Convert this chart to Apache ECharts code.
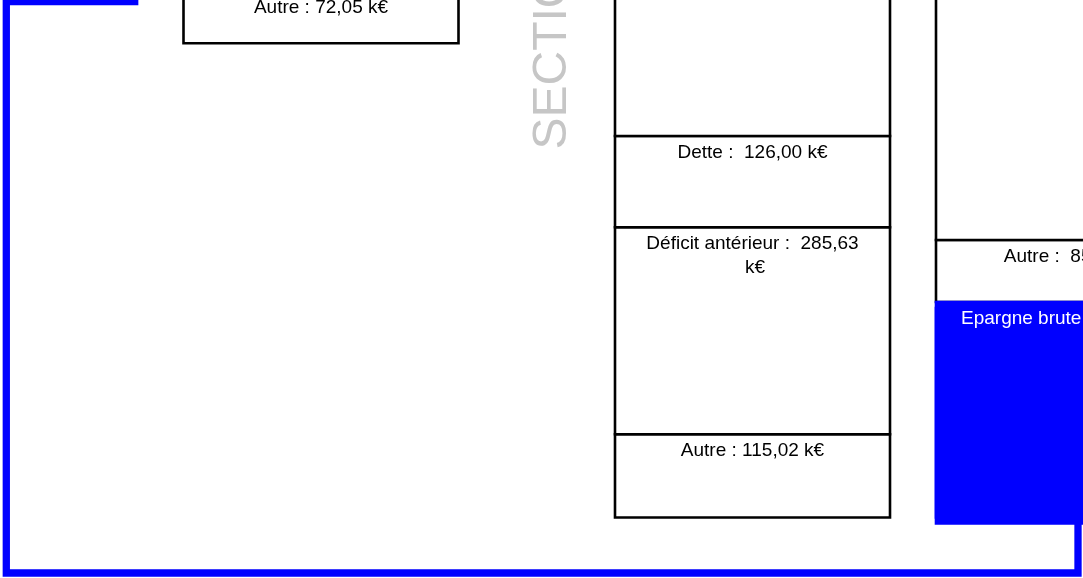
<!DOCTYPE html>
<html>
<head>
<meta charset="utf-8">
<script src="https://cdn.jsdelivr.net/npm/echarts@6/dist/echarts.min.js"></script>
<style>
    html, body {margin: 0; padding: 0; background: #fff;}
    #main {width: 1083px; height: 578px;}
</style>
</head>
<body>
<div id="main"></div>
<script>
// section d'investissement : colonnes dépenses / recettes (k€), du bas vers le haut
var invCategories = ['Dépenses', 'Recettes'];
var depLabels = ['Autre : ', 'Déficit antérieur :  ', 'Dette :  ', ''];
var depValues = [115.02, 285.63, 126.00, 260.00];
var recLabels = ['Epargne brute :  ', 'Autre :  ', ''];
var recValues = [297.50, 85.60, 420.00];
// section de fonctionnement, bas de la colonne visible en haut
var fonctCategories = ['Dépenses'];
var fonctLabels = ['Autre : '];
var fonctValues = [72.05];

var pxPerK = 0.7244; // même échelle pour les deux sections
var invGrid = {left: 592, width: 642, top: 10.4, height: 507.1};
var fonctGrid = {left: 183, width: 276, top: 0, height: 43.2};
var colWidth = 275;
var blue = '#0000ff';
var fontFam = '"Liberation Sans", Arial, Helvetica, sans-serif';

var myChart = echarts.init(document.getElementById('main'));

function fmt(v) {
    return v.toFixed(2).replace('.', ',');
}

// empile les segments d'une colonne : [catégorie, début, fin]
function stackColumn(cat, labels, values, out) {
    var start = 0;
    for (var i = 0; i < values.length; i++) {
        out.push({
            value: [cat, start, start + values[i]],
            text: labels[i] === '' ? '' : labels[i] + fmt(values[i]) + ' k€',
            blue: labels[i].indexOf('Epargne') === 0
        });
        start += values[i];
    }
    return out;
}

var invData = [];
stackColumn(0, depLabels, depValues, invData);
stackColumn(1, recLabels, recValues, invData);
var fonctData = stackColumn(0, fonctLabels, fonctValues, []);

function renderSegment(item, api) {
    var pBot = api.coord([api.value(0), api.value(1)]);
    var pTop = api.coord([api.value(0), api.value(2)]);
    var isBlue = item.blue;
    return {
        type: 'rect',
        z2: isBlue ? 10 : 1,
        shape: {x: pBot[0] - colWidth / 2, y: pTop[1], width: colWidth, height: pBot[1] - pTop[1]},
        style: isBlue ? {
            fill: blue, stroke: blue, lineWidth: 2.6,
            shadowColor: blue, shadowBlur: 0, shadowOffsetY: 6
        } : {fill: '#fff', stroke: '#000', lineWidth: 2.6},
        textContent: {
            style: {
                text: item.text,
                fill: isBlue ? '#fff' : '#000',
                font: '19px ' + fontFam,
                lineHeight: 24,
                width: isBlue ? null : 234,
                overflow: isBlue ? 'none' : 'break',
                align: 'center'
            }
        },
        textConfig: {position: 'insideTop', distance: 6}
    };
}

function makeSeries(gridIdx, data) {
    return {
        type: 'custom',
        xAxisIndex: gridIdx,
        yAxisIndex: gridIdx,
        clip: false,
        encode: {x: 0, y: [1, 2]},
        renderItem: function (params, api) {
            return renderSegment(data[params.dataIndex], api);
        },
        data: data
    };
}

var hiddenAxis = {
    axisLine: {show: false},
    axisTick: {show: false},
    axisLabel: {show: false},
    splitLine: {show: false}
};

option = {
    animation: false,
    backgroundColor: '#fff',
    grid: [
        {left: invGrid.left, width: invGrid.width, top: invGrid.top, height: invGrid.height,
            containLabel: false, outerBoundsMode: 'none'},
        {left: fonctGrid.left, width: fonctGrid.width, top: fonctGrid.top, height: fonctGrid.height,
            containLabel: false, outerBoundsMode: 'none'}
    ],
    xAxis: [
        Object.assign({type: 'category', gridIndex: 0, data: invCategories}, hiddenAxis),
        Object.assign({type: 'category', gridIndex: 1, data: fonctCategories}, hiddenAxis)
    ],
    yAxis: [
        Object.assign({type: 'value', gridIndex: 0, min: 0, max: invGrid.height / pxPerK}, hiddenAxis),
        Object.assign({type: 'value', gridIndex: 1, min: 0, max: fonctGrid.height / pxPerK}, hiddenAxis)
    ],
    graphic: [
        {
            // liaison de l'épargne brute vers la section de fonctionnement
            type: 'polyline',
            z: 1,
            shape: {points: [[134.7, -30], [134.7, 1.5], [6.3, 1.5], [6.3, 573], [1078, 573], [1078, 515]]},
            style: {stroke: blue, lineWidth: 7.3, fill: null, lineJoin: 'miter'}
        },
        {
            type: 'text',
            x: 553,
            y: 149.5,
            rotation: Math.PI / 2,
            style: {
                text: 'SECTION D\'INVESTISSEMENT',
                fill: '#c6c6c6',
                font: '48px ' + fontFam,
                align: 'left',
                verticalAlign: 'middle'
            }
        }
    ],
    series: [makeSeries(0, invData), makeSeries(1, fonctData)]
};

myChart.setOption(option);
</script>
</body>
</html>
